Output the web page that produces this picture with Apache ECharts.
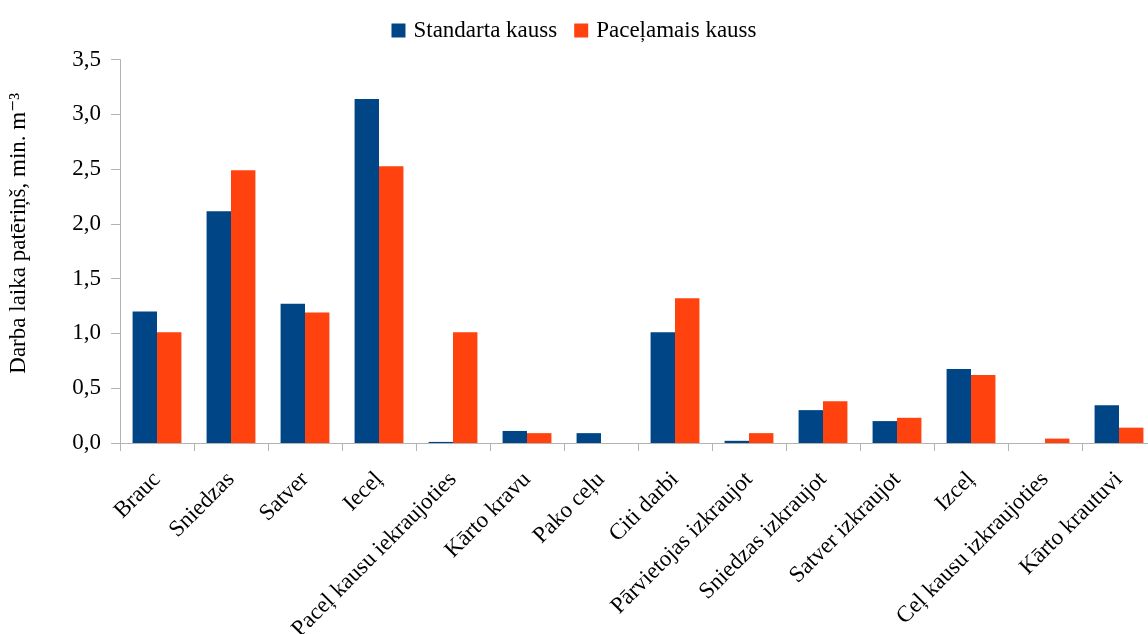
<!DOCTYPE html>
<html><head><meta charset="utf-8">
<script src="https://cdn.jsdelivr.net/npm/echarts@6/dist/echarts.min.js"></script>
<style>html,body{margin:0;padding:0;background:#fff}#c{width:1148px;height:634px}</style>
</head><body><div id="c"></div>
<script>
const categories = ["Brauc","Sniedzas","Satver","Iecel\u0327".replace("l\u0327","ļ"),"Paceļ kausu iekraujoties","Kārto kravu","Pako ceļu","Citi darbi","Pārvietojas izkraujot","Sniedzas izkraujot","Satver izkraujot","Izceļ","Ceļ kausu izkraujoties","Kārto krautuvi"];
const standarta = [1.20, 2.115, 1.27, 3.14, 0.01, 0.11, 0.09, 1.01, 0.02, 0.30, 0.20, 0.675, 0, 0.345];
const pacelamais = [1.01, 2.49, 1.19, 2.525, 1.01, 0.09, 0, 1.32, 0.09, 0.38, 0.23, 0.62, 0.04, 0.14];
const seriesNames = ["Standarta kauss","Paceļamais kauss"];
const yTitle = "Darba laika patēriņš, min. m⁻³";

const font = "'Liberation Serif', 'DejaVu Serif', serif";
const chart = echarts.init(document.getElementById('c'), null, {renderer:'canvas'});
chart.setOption({
  animation:false,
  textStyle:{fontFamily:font},
  color:['#004586','#ff420e'],
  legend:{
    top:14, left:'center', itemWidth:14, itemHeight:14, itemGap:17,
    icon:'rect',
    textStyle:{fontFamily:font, fontSize:23, color:'#000', padding:[0,0,0,3]},
    data:seriesNames
  },
  grid:{left:120, top:59.5, width:1036, height:383.5, containLabel:false, outerBoundsMode:'none'},
  xAxis:{
    type:'category', data:categories,
    axisLine:{lineStyle:{color:'#b3b3b3', width:1}},
    axisTick:{show:true, length:8, lineStyle:{color:'#b3b3b3'}},
    axisLabel:{rotate:45, interval:0, fontFamily:font, fontSize:23, color:'#000', margin:33}
  },
  yAxis:{
    type:'value', min:0, max:3.5, interval:0.5,
    name:yTitle, nameLocation:'middle', nameGap:90, nameRotate:90,
    nameTextStyle:{fontFamily:font, fontSize:23, color:'#000', padding:[0,0,0,36]},
    axisLine:{show:true, lineStyle:{color:'#b3b3b3'}},
    axisTick:{show:true, length:9, lineStyle:{color:'#b3b3b3'}},
    splitLine:{show:false},
    axisLabel:{fontFamily:font, fontSize:23, color:'#000', margin:19,
      formatter:v=>v.toFixed(1).replace('.',',')}
  },
  series:[
    {name:seriesNames[0], type:'bar', data:standarta, barGap:'0%', barCategoryGap:'34%'},
    {name:seriesNames[1], type:'bar', data:pacelamais, barGap:'0%', barCategoryGap:'34%'}
  ]
});
</script></body></html>
